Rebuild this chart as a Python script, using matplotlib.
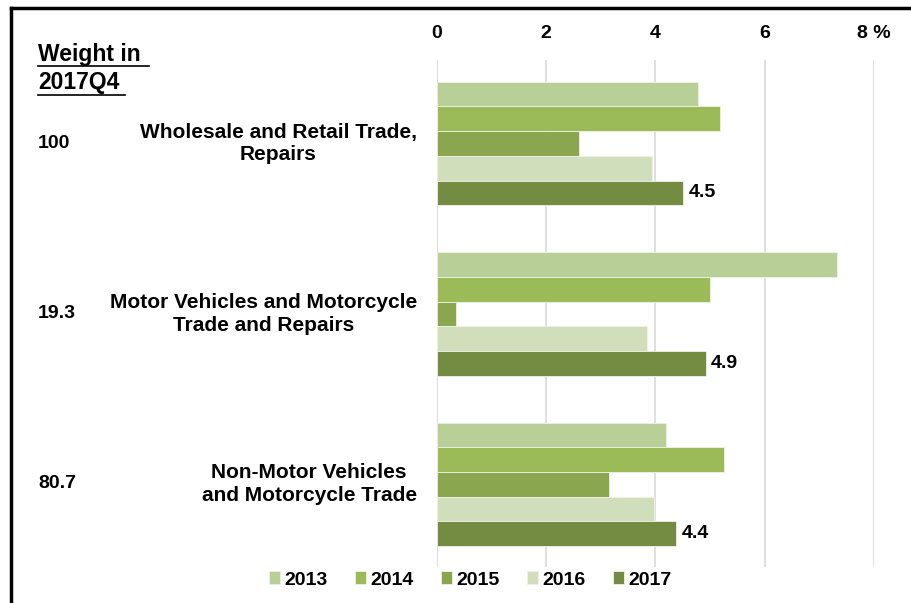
import matplotlib.pyplot as plt
from matplotlib.lines import Line2D
import numpy as np

plt.rcParams['font.family'] = ['Liberation Sans', 'DejaVu Sans']
plt.rcParams['font.weight'] = 'bold'

# Data
categories = ["Wholesale and Retail Trade,\nRepairs",
              "Motor Vehicles and Motorcycle\nTrade and Repairs",
              "Non-Motor Vehicles\nand Motorcycle Trade"]
weights = ["100", "19.3", "80.7"]
years = ["2013", "2014", "2015", "2016", "2017"]
growth_2013 = [4.78, 7.32, 4.19]
growth_2014 = [5.18, 5.0, 5.26]
growth_2015 = [2.6, 0.35, 3.15]
growth_2016 = [3.93, 3.84, 3.98]
growth_2017 = [4.5, 4.92, 4.38]
labels_2017 = ["4.5", "4.9", "4.4"]
xticks = [0, 2, 4, 6, 8]
xtick_labels = ["0", "2", "4", "6", "8 %"]

series = [growth_2013, growth_2014, growth_2015, growth_2016, growth_2017]
colors = ["#B9CF98", "#9BBB59", "#8AA64E", "#D1DEBC", "#748C41"]


def main():
    fig = plt.figure(figsize=(9.12, 6.03), dpi=100)
    W, H = 912, 603
    ax = fig.add_axes([437 / W, 1 - 567 / H, (874 - 437) / W, (567 - 60) / H])

    bar_h = 0.145
    y = np.arange(len(categories))
    for i, (vals, col) in enumerate(zip(series, colors)):
        offs = (i - 2) * bar_h
        ax.barh(y + offs, vals, height=bar_h, color=col, edgecolor="#EEF3E6",
                linewidth=0.6, label=years[i], zorder=3)
    for j, v in enumerate(growth_2017):
        ax.text(v + 0.1, y[j] + 2 * bar_h, labels_2017[j], va="center", ha="left",
                fontsize=14, fontweight="bold")

    ax.set_xlim(0, 8)
    ax.set_ylim(2.485, -0.49)
    ax.set_xticks(xticks)
    ax.set_xticklabels(xtick_labels, fontsize=14, fontweight="bold")
    ax.xaxis.tick_top()
    ax.tick_params(axis="x", length=0, pad=13)
    ax.set_yticks([])
    ax.grid(axis="x", color="#D9D9D9", linewidth=1.2, zorder=0)
    for s in ax.spines.values():
        s.set_visible(False)
    ax.axvline(0, color="#D9D9D9", linewidth=1.2, zorder=1)

    # category names and weights on the left
    for j in range(len(categories)):
        ax.text(-0.37, y[j], categories[j], ha="right", va="center",
                multialignment="center", fontsize=15, fontweight="bold",
                linespacing=1.25)
        fig.text(38 / W, 1 - (143 + 170 * j) / H, weights[j], ha="left",
                 va="center", fontsize=14, fontweight="bold")

    fig.text(38 / W, 1 - 54 / H, "Weight in", ha="left", va="center",
             fontsize=16.5, fontweight="bold")
    fig.text(38 / W, 1 - 83 / H, "2017Q4", ha="left", va="center",
             fontsize=16.5, fontweight="bold")
    fig.add_artist(Line2D([38 / W, 149 / W], [1 - 66 / H, 1 - 66 / H],
                          color="black", linewidth=1.2))
    fig.add_artist(Line2D([38 / W, 125 / W], [1 - 95 / H, 1 - 95 / H],
                          color="black", linewidth=1.2))

    # frame on left and top
    fig.add_artist(Line2D([11 / W, 11 / W], [0, 1 - 8 / H], color="black", linewidth=2.5))
    fig.add_artist(Line2D([11 / W, 1], [1 - 8 / H, 1 - 8 / H], color="black", linewidth=2.5))

    fig.legend(loc="center", bbox_to_anchor=(470 / W, 1 - 580 / H), ncol=5,
               frameon=False, fontsize=14, handlelength=0.6, handleheight=0.6,
               handletextpad=0.2, columnspacing=1.4)

    fig.savefig("out.png", dpi=100)


if __name__ == "__main__":
    main()
